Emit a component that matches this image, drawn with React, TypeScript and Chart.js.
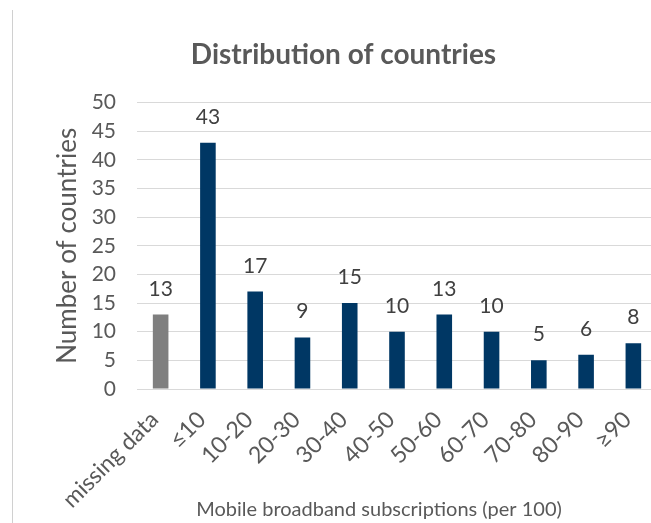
import React, { useEffect, useRef } from "react";
import { Chart, registerables } from "chart.js";

Chart.register(...registerables);

const categories = ["missing data", "≤10", "10-20", "20-30", "30-40", "40-50", "50-60", "60-70", "70-80", "80-90", "≥90"];
const counts = [13, 43, 17, 9, 15, 10, 13, 10, 5, 6, 8];
const barColors = ["#7F7F7F", "#003764", "#003764", "#003764", "#003764", "#003764", "#003764", "#003764", "#003764", "#003764", "#003764"];
const yTicks = [0, 5, 10, 15, 20, 25, 30, 35, 40, 45, 50];
const xTitle = "Mobile broadband subscriptions (per 100)";

const FONT = "Lato, 'Open Sans', sans-serif";

const valueLabels = {
  id: "valueLabels",
  afterDatasetsDraw(chart: any) {
    const ctx = chart.ctx;
    const meta = chart.getDatasetMeta(0);
    ctx.save();
    ctx.font = `21px ${FONT}`;
    ctx.fillStyle = "#404040";
    ctx.textAlign = "center";
    ctx.textBaseline = "alphabetic";
    meta.data.forEach((el: any, i: number) => {
      ctx.fillText(String(counts[i]), el.x, el.y - 19);
    });
    ctx.restore();
  },
};

const xAxisTitle = {
  id: "xAxisTitle",
  afterDraw(chart: any) {
    const ctx = chart.ctx;
    ctx.save();
    ctx.font = `20px ${FONT}`;
    ctx.fillStyle = "#595959";
    ctx.textAlign = "center";
    ctx.textBaseline = "middle";
    ctx.fillText(xTitle, chart.width / 2, chart.height - 13);
    ctx.restore();
  },
};

export default function App() {
  const ref = useRef<HTMLCanvasElement | null>(null);
  useEffect(() => {
    if (!ref.current) return;
    const chart = new Chart(ref.current, {
      type: "bar",
      data: {
        labels: categories,
        datasets: [
          {
            data: counts,
            backgroundColor: barColors,
            barPercentage: 0.33,
            categoryPercentage: 1,
          },
        ],
      },
      options: {
        animation: false,
        responsive: false,
        maintainAspectRatio: false,
        layout: { padding: { left: 30, right: 101, top: 0, bottom: 0 } },
        plugins: {
          legend: { display: false },
          tooltip: { enabled: false },
          title: {
            display: true,
            text: "Distribution of countries",
            color: "#595959",
            font: { family: FONT, size: 28, weight: "bold" },
            padding: { top: 38, bottom: 31 },
          },
        },
        scales: {
          x: {
            afterFit: (scale: any) => {
              scale.paddingLeft = 0;
              scale.height = 134;
            },
            grid: { display: false, drawTicks: false },
            border: { display: false },
            ticks: {
              color: "#595959",
              font: { family: FONT, size: 23 },
              minRotation: 45,
              maxRotation: 45,
              padding: 17,
              labelOffset: -6,
              autoSkip: false,
            },
            title: { display: false },
          },
          y: {
            min: 0,
            max: 50,
            afterBuildTicks: (scale: any) => {
              scale.ticks = yTicks.map((v) => ({ value: v }));
            },
            afterFit: (scale: any) => {
              scale.width = 107;
            },
            grid: { color: "#D9D9D9", lineWidth: 1, drawTicks: false },
            border: { display: false },
            ticks: {
              color: "#595959",
              font: { family: FONT, size: 21 },
              padding: 21,
              autoSkip: false,
            },
            title: {
              display: true,
              text: "Number of countries",
              color: "#595959",
              font: { family: FONT, size: 26 },
              padding: { top: 22, bottom: 6 },
            },
          },
        },
      },
      plugins: [valueLabels, xAxisTitle],
    });
    return () => chart.destroy();
  }, []);

  return (
    <div style={{ position: "absolute", left: 0, top: 0, width: 651, height: 523, overflow: "hidden", background: "#fff" }}>
      <div style={{ position: "absolute", left: 12, top: 10, width: 1, height: 520, background: "#D0D0D0" }} />
      <canvas ref={ref} width={758} height={523} style={{ position: "absolute", left: 0, top: 0 }} />
    </div>
  );
}
